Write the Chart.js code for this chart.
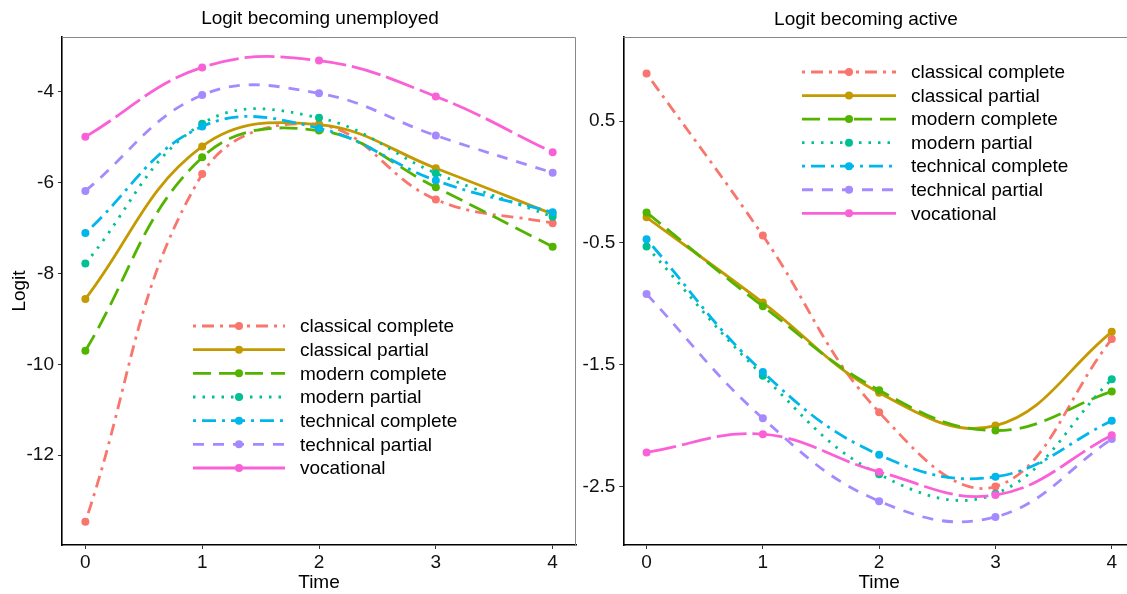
<!DOCTYPE html>
<html>
<head>
<meta charset="utf-8">
<script src="https://cdn.jsdelivr.net/npm/chart.js@4/dist/chart.umd.min.js"></script>
<style>
  html, body { margin: 0; padding: 0; background: #fff; overflow: hidden; width: 1127px; height: 594px; }
  #left { position: absolute; left: 0; top: 0; }
  #right { position: absolute; left: 580px; top: 0; }
</style>
</head>
<body>
<canvas id="left" width="580" height="594"></canvas>
<canvas id="right" width="565" height="594"></canvas>
<script>
// time points and group names
const times = [0, 1, 2, 3, 4];
const groups = ['classical complete', 'classical partial', 'modern complete', 'modern partial',
                'technical complete', 'technical partial', 'vocational'];

// Logit becoming unemployed
const unempClassicalComplete = [-13.47, -5.81, -4.72, -6.37, -6.89];
const unempClassicalPartial  = [-8.56, -5.20, -4.72, -5.68, -6.69];
const unempModernComplete    = [-9.70, -5.44, -4.85, -6.10, -7.41];
const unempModernPartial     = [-7.78, -4.70, -4.57, -5.79, -6.75];
const unempTechnicalComplete = [-7.11, -4.76, -4.80, -5.95, -6.65];
const unempTechnicalPartial  = [-6.18, -4.07, -4.03, -4.96, -5.78];
const unempVocational        = [-4.99, -3.46, -3.31, -4.10, -5.33];

// Logit becoming active
const activeClassicalComplete = [0.89, -0.44, -1.89, -2.50, -1.29];
const activeClassicalPartial  = [-0.29, -0.99, -1.73, -2.00, -1.23];
const activeModernComplete    = [-0.25, -1.02, -1.71, -2.04, -1.72];
const activeModernPartial     = [-0.53, -1.59, -2.40, -2.56, -1.62];
const activeTechnicalComplete = [-0.47, -1.56, -2.24, -2.42, -1.96];
const activeTechnicalPartial  = [-0.92, -1.94, -2.62, -2.75, -2.11];
const activeVocational        = [-2.22, -2.07, -2.38, -2.57, -2.08];

// tick labels
const xTicks = [0, 1, 2, 3, 4];
const unempTicks = [-12, -10, -8, -6, -4];
const activeTicks = [-2.5, -1.5, -0.5, 0.5];

const colors = ['#F8766D', '#C49A00', '#53B400', '#00C094', '#00B6EB', '#A58AFF', '#FB61D7'];
const dashes = [[3, 6, 12, 6], [], [18, 8], [2.5, 7], [3, 6, 14, 6], [11, 9], [30, 6]];
const legendDashes = [[3, 6, 12, 6], [], [18, 8], [2.5, 7], [3, 6, 14, 6], [11, 9], []];

const FONT = "'Liberation Sans', Arial, sans-serif";
const FS = 19;

function makeDatasets(seriesList) {
    return seriesList.map((vals, i) => ({
        label: groups[i],
        data: times.map((t, j) => ({ x: t, y: vals[j] })),
        borderColor: colors[i],
        backgroundColor: colors[i],
        borderWidth: 2.8,
        borderDash: dashes[i],
        borderCapStyle: 'butt',
        tension: 0.4,
        pointRadius: 4,
        pointBorderWidth: 0,
        pointBackgroundColor: colors[i],
        order: groups.length - i
    }));
}

// title, top/right panel border and legend (line + point + label)
const panelDecor = {
    id: 'panelDecor',
    beforeDatasetsDraw(chart) {
        const a = chart.chartArea;
        const ctx = chart.ctx;
        ctx.save();
        ctx.strokeStyle = '#888';
        ctx.lineWidth = 1;
        ctx.beginPath();
        ctx.moveTo(a.left, a.top + 0.5);
        ctx.lineTo(a.right - 0.5, a.top + 0.5);
        ctx.lineTo(a.right - 0.5, a.bottom);
        ctx.stroke();
        ctx.restore();
    },
    afterDraw(chart, args, opts) {
        const ctx = chart.ctx;
        ctx.save();
        ctx.fillStyle = '#000';
        ctx.font = FS + 'px ' + FONT;
        ctx.textAlign = 'center';
        ctx.textBaseline = 'middle';
        ctx.fillText(opts.title, opts.titleX, opts.titleY);

        const lg = opts.legend;
        chart.data.datasets.forEach((ds, i) => {
            const y = lg.y + i * lg.row;
            ctx.save();
            ctx.strokeStyle = ds.borderColor;
            ctx.lineWidth = ds.borderWidth;
            ctx.setLineDash(legendDashes[i]);
            ctx.lineCap = 'butt';
            ctx.beginPath();
            ctx.moveTo(lg.x, y);
            ctx.lineTo(lg.x + lg.lineW, y);
            ctx.stroke();
            ctx.fillStyle = ds.borderColor;
            ctx.beginPath();
            ctx.arc(lg.x + lg.lineW / 2, y, 4, 0, Math.PI * 2);
            ctx.fill();
            ctx.restore();
            ctx.fillStyle = '#000';
            ctx.textAlign = 'left';
            ctx.fillText(ds.label, lg.textX, y + 1);
        });
        ctx.restore();
    }
};

function makeChart(id, seriesList, yMin, yMax, yTicks, yTitle, yWidth, padRight, decor) {
    return new Chart(document.getElementById(id), {
        type: 'line',
        data: { datasets: makeDatasets(seriesList) },
        options: {
            responsive: false,
            animation: false,
            layout: { padding: { top: 37, right: padRight, bottom: 0, left: 0 } },
            plugins: {
                legend: { display: false },
                tooltip: { enabled: false },
                panelDecor: decor
            },
            scales: {
                x: {
                    type: 'linear',
                    min: -0.2,
                    max: 4.2,
                    afterBuildTicks: s => { s.ticks = xTicks.map(v => ({ value: v })); },
                    afterFit: s => { s.height = 49; },
                    ticks: { color: '#111', font: { family: FONT, size: FS }, padding: 2 },
                    grid: { drawOnChartArea: false, drawTicks: true, tickLength: 4, color: '#333' },
                    border: { display: true, color: '#000', width: 1.6 },
                    title: { display: true, text: 'Time', color: '#000', font: { family: FONT, size: FS }, padding: { top: 0, bottom: 0 } }
                },
                y: {
                    min: yMin,
                    max: yMax,
                    afterBuildTicks: s => { s.ticks = yTicks.map(v => ({ value: v })); },
                    afterFit: s => { s.width = yWidth; },
                    ticks: { color: '#111', font: { family: FONT, size: FS }, padding: 4, callback: v => String(v) },
                    grid: { drawOnChartArea: false, drawTicks: true, tickLength: 4, color: '#333' },
                    border: { display: true, color: '#000', width: 1.6 },
                    title: { display: yTitle !== '', text: yTitle, color: '#000', font: { family: FONT, size: FS }, padding: { top: 8, bottom: 0 } }
                }
            }
        },
        plugins: [panelDecor]
    });
}

makeChart('left',
    [unempClassicalComplete, unempClassicalPartial, unempModernComplete, unempModernPartial,
     unempTechnicalComplete, unempTechnicalPartial, unempVocational],
    -13.98, -2.79, unempTicks, 'Logit', 62, 1,
    { title: 'Logit becoming unemployed', titleX: 320, titleY: 19,
      legend: { x: 193, y: 326, row: 23.67, lineW: 92, textX: 300 } });

makeChart('right',
    [activeClassicalComplete, activeClassicalPartial, activeModernComplete, activeModernPartial,
     activeTechnicalComplete, activeTechnicalPartial, activeVocational],
    -2.98, 1.19, activeTicks, '', 43.3, 10,
    { title: 'Logit becoming active', titleX: 286, titleY: 20,
      legend: { x: 222, y: 72, row: 23.55, lineW: 94, textX: 331 } });
</script>
</body>
</html>
